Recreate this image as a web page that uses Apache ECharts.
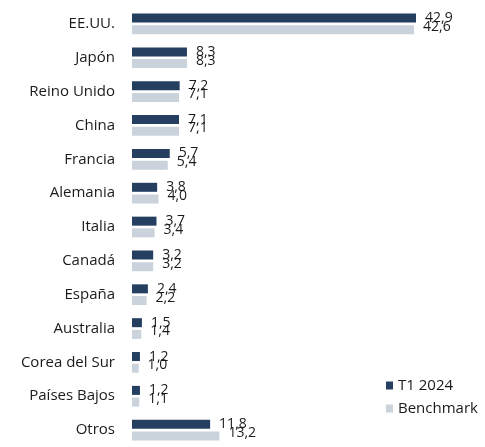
<!DOCTYPE html>
<html>
<head>
<meta charset="utf-8">
<script src="https://cdn.jsdelivr.net/npm/echarts@6/dist/echarts.min.js"></script>
<style>
html,body{margin:0;padding:0;background:#fff;}
#chart{width:485px;height:447px;}
</style>
</head>
<body>
<div id="chart"></div>
<script>
const categories = ['EE.UU.', 'Japón', 'Reino Unido', 'China', 'Francia', 'Alemania', 'Italia', 'Canadá', 'España', 'Australia', 'Corea del Sur', 'Países Bajos', 'Otros'];
const seriesNames = ['T1 2024', 'Benchmark'];
const t1Values = [42.9, 8.3, 7.2, 7.1, 5.7, 3.8, 3.7, 3.2, 2.4, 1.5, 1.2, 1.2, 11.8];
const benchmarkValues = [42.6, 8.3, 7.1, 7.1, 5.4, 4.0, 3.4, 3.2, 2.2, 1.4, 1.0, 1.1, 13.2];

const FONT = '"Open Sans", "Liberation Sans", sans-serif';
const fmt = p => p.value.toFixed(1).replace('.', ',');

const chart = echarts.init(document.getElementById('chart'), null, {renderer: 'canvas'});
chart.setOption({
  animation: false,
  backgroundColor: '#ffffff',
  grid: {left: 132, top: 7, width: 331, height: 444, containLabel: false},
  xAxis: {
    type: 'value', min: 0, max: 50,
    show: false
  },
  yAxis: {
    type: 'category', data: categories, inverse: true,
    axisLine: {show: false}, axisTick: {show: false}, splitLine: {show: false},
    axisLabel: {margin: 17, color: '#1a1a1a', fontSize: 15, fontFamily: FONT}
  },
  legend: {
    orient: 'vertical', left: 381, top: 373,
    itemWidth: 7, itemHeight: 8, itemGap: 8,
    icon: 'rect',
    textStyle: {color: '#1a1a1a', fontSize: 15, fontFamily: FONT},
    data: seriesNames
  },
  series: [
    {
      name: seriesNames[0], type: 'bar', data: t1Values,
      barWidth: 9, barGap: '30%',
      itemStyle: {color: '#253F60'},
      label: {show: true, position: 'right', distance: 9, offset: [0, 0], formatter: fmt,
        color: '#1a1a1a', fontSize: 14, fontFamily: FONT}
    },
    {
      name: seriesNames[1], type: 'bar', data: benchmarkValues,
      barWidth: 9,
      itemStyle: {color: '#CAD2DC'},
      label: {show: true, position: 'right', distance: 9, offset: [0, -3], formatter: fmt,
        color: '#1a1a1a', fontSize: 14, fontFamily: FONT}
    }
  ]
});
</script>
</body>
</html>
